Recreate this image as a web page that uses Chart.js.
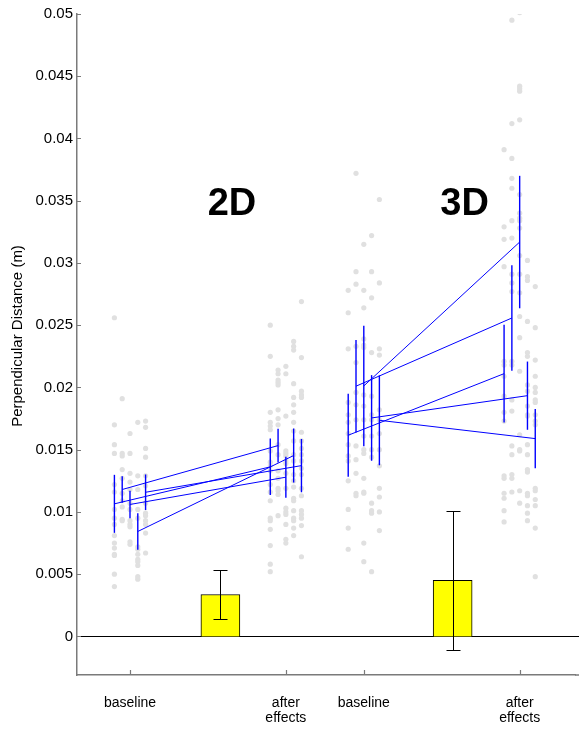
<!DOCTYPE html>
<html>
<head>
<meta charset="utf-8">
<script src="https://cdn.jsdelivr.net/npm/chart.js@4.4.0/dist/chart.umd.min.js"></script>
<style>
  html, body { margin: 0; padding: 0; background: #fff; }
  #wrap { width: 579px; height: 730px; }
</style>
</head>
<body>
<div id="wrap"><canvas id="chart" width="579" height="730"></canvas></div>
<script>
// 조건 위치와 눈금
const conditionX = [1, 2, 2.5, 3.5];
const conditionLabels = ['baseline', ['after', 'effects'], 'baseline', ['after', 'effects']];
const yTickValues = [0, 0.005, 0.01, 0.015, 0.02, 0.025, 0.03, 0.035, 0.04, 0.045, 0.05];
const yTickLabels = ['0', '0.005', '0.01', '0.015', '0.02', '0.025', '0.03', '0.035', '0.04', '0.045', '0.05'];
const groupNames = ['2D', '3D'];
const yTitle = 'Perpendicular Distance (m)';

// 피험자별 x 오프셋
const subjectOffsets = [-0.1, -0.05, 0, 0.05, 0.1];

// 피험자 평균 / 표준편차
const mean2DBase = [0.01065, 0.0118, 0.0106, 0.00843, 0.01158];
const sd2DBase = [0.00233, 0.00107, 0.0011, 0.00147, 0.00143];
const mean2DAfter = [0.01362, 0.01533, 0.01279, 0.01453, 0.01372];
const sd2DAfter = [0.00227, 0.00136, 0.00165, 0.00217, 0.00214];
const mean3DBase = [0.01616, 0.0201, 0.02012, 0.01755, 0.01736];
const sd3DBase = [0.00334, 0.00372, 0.00484, 0.00344, 0.00361];
const mean3DAfter = [0.02111, 0.02558, 0.03168, 0.01934, 0.01589];
const sd3DAfter = [0.00392, 0.00424, 0.00532, 0.00274, 0.00238];

// 노란 막대 (차이) 와 오차
const barX = [1.58, 3.07];
const barValues = [0.00337, 0.0045];
const barErr = [0.00197, 0.0056];

// 개별 시행 (회색 점), 피험자별 열
const dots2DBase = [
  [0.0256, 0.0170, 0.0154, 0.0147, 0.0122, 0.0116, 0.0102, 0.0095, 0.0090, 0.0081, 0.0075, 0.0071, 0.0066, 0.0065, 0.0050, 0.0040],
  [0.0191, 0.0147, 0.0145, 0.0134, 0.0127, 0.0115, 0.0109, 0.0104, 0.0094, 0.0093],
  [0.0163, 0.0147, 0.0131, 0.0124, 0.0118, 0.0107, 0.0102, 0.0093, 0.0090, 0.0088, 0.0076, 0.0074],
  [0.0172, 0.0129, 0.0118, 0.0102, 0.0095, 0.0072, 0.0070, 0.0066, 0.0062, 0.0060, 0.0057, 0.0048, 0.0046],
  [0.0173, 0.0168, 0.0151, 0.0144, 0.0129, 0.0121, 0.0107, 0.0099, 0.0097, 0.0093, 0.0090, 0.0083, 0.0067]
];
const dots2DAfter = [
  [0.0250, 0.0225, 0.0180, 0.0172, 0.0169, 0.0166, 0.0149, 0.0140, 0.0137, 0.0133, 0.0122, 0.0116, 0.0109, 0.0095, 0.0093, 0.0086, 0.0073, 0.0058, 0.0052],
  [0.0214, 0.0211, 0.0206, 0.0204, 0.0202, 0.0182, 0.0175, 0.0170, 0.0154, 0.0146, 0.0133, 0.0127, 0.0119, 0.0117, 0.0114, 0.0097],
  [0.0217, 0.0211, 0.0177, 0.0149, 0.0147, 0.0145, 0.0141, 0.0139, 0.0131, 0.0119, 0.0103, 0.0100, 0.0098, 0.0090, 0.0078, 0.0075],
  [0.0237, 0.0233, 0.0230, 0.0203, 0.0192, 0.0186, 0.0180, 0.0172, 0.0165, 0.0157, 0.0146, 0.0141, 0.0130, 0.0125, 0.0120, 0.0111, 0.0109, 0.0101, 0.0095, 0.0093, 0.0087, 0.0081],
  [0.0269, 0.0224, 0.0197, 0.0194, 0.0192, 0.0164, 0.0157, 0.0151, 0.0146, 0.0141, 0.0135, 0.0130, 0.0119, 0.0113, 0.0101, 0.0098, 0.0095, 0.0089, 0.0064]
];
const dots3DBase = [
  [0.0278, 0.0260, 0.0231, 0.0188, 0.0178, 0.0172, 0.0163, 0.0154, 0.0145, 0.0141, 0.0125, 0.0102, 0.0087, 0.0070],
  [0.0372, 0.0293, 0.0283, 0.0233, 0.0220, 0.0196, 0.0186, 0.0174, 0.0153, 0.0142, 0.0131, 0.0115, 0.0113],
  [0.0315, 0.0278, 0.0264, 0.0239, 0.0234, 0.0232, 0.0194, 0.0185, 0.0174, 0.0161, 0.0150, 0.0147, 0.0127, 0.0116, 0.0115, 0.0075, 0.0060],
  [0.0322, 0.0293, 0.0272, 0.0228, 0.0193, 0.0178, 0.0174, 0.0161, 0.0150, 0.0144, 0.0107, 0.0101, 0.0099, 0.0052],
  [0.0351, 0.0284, 0.0231, 0.0226, 0.0182, 0.0174, 0.0163, 0.0150, 0.0137, 0.0119, 0.0112, 0.0100, 0.0085]
];
const dots3DAfter = [
  [0.0391, 0.0329, 0.0319, 0.0297, 0.0221, 0.0218, 0.0209, 0.0193, 0.0180, 0.0173, 0.0129, 0.0127, 0.0115, 0.0111, 0.0101, 0.0092],
  [0.0495, 0.0412, 0.0384, 0.0368, 0.0360, 0.0334, 0.0320, 0.0291, 0.0284, 0.0277, 0.0221, 0.0218, 0.0190, 0.0181, 0.0153, 0.0146, 0.0130, 0.0127, 0.0116],
  [0.0501, 0.0442, 0.0440, 0.0438, 0.0415, 0.0355, 0.0340, 0.0336, 0.0334, 0.0328, 0.0306, 0.0291, 0.0276, 0.0257, 0.0240, 0.0213, 0.0162, 0.0150, 0.0149, 0.0117, 0.0107],
  [0.0302, 0.0289, 0.0286, 0.0253, 0.0228, 0.0225, 0.0202, 0.0197, 0.0185, 0.0178, 0.0177, 0.0154, 0.0146, 0.0134, 0.0132, 0.0115, 0.0113, 0.0105, 0.0099, 0.0093],
  [0.0281, 0.0248, 0.0222, 0.0209, 0.0200, 0.0196, 0.0190, 0.0188, 0.0178, 0.0173, 0.0170, 0.0119, 0.0117, 0.0110, 0.0105, 0.0087, 0.0048]
];

// 스타일
const FONT = '"Liberation Sans", Arial, Helvetica, sans-serif';
const BLUE = '#0000ff';
const AXIS_GRAY = '#7a7a7a';
const groupLabelPos = [{ x: 1.654, y: 0.0347 }, { x: 3.147, y: 0.0347 }];
const yTitleCenter = { x: 18, y: 336 };

// 데이터셋 만들기
const datasets = [];

function addDots(columns, cx) {
    const pts = [];
    columns.forEach((col, i) => {
        col.forEach(v => pts.push({ x: cx + subjectOffsets[i], y: v }));
    });
    datasets.push({
        type: 'scatter', data: pts,
        pointRadius: 2.6, pointBackgroundColor: '#e0e0e0', pointBorderWidth: 0,
        order: 10
    });
}

function addSegment(p1, p2, width, order) {
    datasets.push({
        type: 'scatter', data: [p1, p2], showLine: true,
        borderColor: BLUE, borderWidth: width, pointRadius: 0, order: order
    });
}

function addErrorBars(means, sds, cx) {
    means.forEach((m, i) => {
        const x = cx + subjectOffsets[i];
        addSegment({ x: x, y: m - sds[i] }, { x: x, y: m + sds[i] }, 1.4, 6);
    });
}

function addConnectors(baseMeans, afterMeans, bx, ax) {
    baseMeans.forEach((m, i) => {
        addSegment({ x: bx + subjectOffsets[i], y: m }, { x: ax + subjectOffsets[i], y: afterMeans[i] }, 1, 5);
    });
}

addDots(dots2DBase, conditionX[0]);
addDots(dots2DAfter, conditionX[1]);
addDots(dots3DBase, conditionX[2]);
addDots(dots3DAfter, conditionX[3]);

addErrorBars(mean2DBase, sd2DBase, conditionX[0]);
addErrorBars(mean2DAfter, sd2DAfter, conditionX[1]);
addErrorBars(mean3DBase, sd3DBase, conditionX[2]);
addErrorBars(mean3DAfter, sd3DAfter, conditionX[3]);

addConnectors(mean2DBase, mean2DAfter, conditionX[0], conditionX[1]);
addConnectors(mean3DBase, mean3DAfter, conditionX[2], conditionX[3]);

datasets.push({
    type: 'bar',
    data: barX.map((x, i) => ({ x: x, y: barValues[i] })),
    backgroundColor: '#ffff00', borderColor: '#000', borderWidth: 1,
    barThickness: 39, grouped: false, order: 3
});

// 0 선, 오차 막대, 눈금, 그룹 라벨, y 제목
const decorPlugin = {
    id: 'decor',
    beforeDatasetsDraw(chart) {
        const { ctx, chartArea, scales: { y } } = chart;
        const y0 = Math.round(y.getPixelForValue(0)) + 0.5;
        ctx.save();
        ctx.strokeStyle = '#000';
        ctx.lineWidth = 1;
        ctx.beginPath();
        ctx.moveTo(chartArea.left, y0);
        ctx.lineTo(chart.width, y0);
        ctx.stroke();
        ctx.restore();
    },
    afterDatasetsDraw(chart) {
        const { ctx, chartArea, scales: { x, y } } = chart;
        ctx.save();

        // 막대 오차
        ctx.strokeStyle = '#000';
        ctx.lineWidth = 1;
        barX.forEach((bx, i) => {
            const px = Math.round(x.getPixelForValue(bx)) + 0.5;
            const top = Math.round(y.getPixelForValue(barValues[i] + barErr[i])) + 0.5;
            const bot = Math.round(y.getPixelForValue(barValues[i] - barErr[i])) + 0.5;
            ctx.beginPath();
            ctx.moveTo(px, top); ctx.lineTo(px, bot);
            ctx.moveTo(px - 7, top); ctx.lineTo(px + 7, top);
            ctx.moveTo(px - 7, bot); ctx.lineTo(px + 7, bot);
            ctx.stroke();
        });

        // 안쪽 눈금
        ctx.strokeStyle = AXIS_GRAY;
        ctx.lineWidth = 1.2;
        ctx.beginPath();
        yTickValues.forEach(v => {
            const py = Math.round(y.getPixelForValue(v)) + 0.5;
            ctx.moveTo(chartArea.left, py);
            ctx.lineTo(chartArea.left + 4, py);
        });
        conditionX.forEach(v => {
            const px = Math.round(x.getPixelForValue(v)) + 0.5;
            ctx.moveTo(px, chartArea.bottom);
            ctx.lineTo(px, chartArea.bottom - 5);
        });
        ctx.stroke();

        // 아래 축선을 캔버스 끝까지
        ctx.lineWidth = 1.5;
        ctx.beginPath();
        ctx.moveTo(chartArea.right, chartArea.bottom);
        ctx.lineTo(chart.width, chartArea.bottom);
        ctx.stroke();

        // 그룹 라벨
        ctx.fillStyle = '#000';
        ctx.font = 'bold 38px ' + FONT;
        ctx.textAlign = 'center';
        ctx.textBaseline = 'middle';
        groupNames.forEach((name, i) => {
            ctx.fillText(name, x.getPixelForValue(groupLabelPos[i].x), y.getPixelForValue(groupLabelPos[i].y));
        });

        // y 제목
        ctx.font = '15px ' + FONT;
        ctx.translate(yTitleCenter.x, yTitleCenter.y);
        ctx.rotate(-Math.PI / 2);
        ctx.fillText(yTitle, 0, 0);
        ctx.restore();
    }
};

new Chart(document.getElementById('chart'), {
    type: 'scatter',
    data: { datasets: datasets },
    options: {
        responsive: false,
        animation: false,
        layout: { padding: { top: 14, left: 0, right: 0, bottom: 0 } },
        plugins: {
            legend: { display: false },
            tooltip: { enabled: false }
        },
        scales: {
            x: {
                type: 'linear',
                min: 0.66,
                max: 3.855,
                offset: false,
                afterBuildTicks: s => { s.ticks = conditionX.map(v => ({ value: v })); },
                afterFit: s => { s.height = 55; },
                grid: { display: false, drawTicks: false },
                border: { display: true, color: AXIS_GRAY, width: 1.5 },
                ticks: {
                    autoSkip: false,
                    maxRotation: 0,
                    padding: 20,
                    color: '#000',
                    font: { family: FONT, size: 14, lineHeight: 1.12 },
                    callback: (v, i) => conditionLabels[i]
                }
            },
            y: {
                min: -0.0031,
                max: 0.05,
                afterBuildTicks: s => { s.ticks = yTickValues.map(v => ({ value: v })); },
                afterFit: s => { s.width = 77; },
                grid: { display: false, drawTicks: false },
                border: { display: true, color: AXIS_GRAY, width: 1.5 },
                ticks: {
                    padding: 4,
                    color: '#000',
                    font: { family: FONT, size: 15 },
                    callback: (v, i) => yTickLabels[i]
                }
            }
        }
    },
    plugins: [decorPlugin]
});
</script>
</body>
</html>
